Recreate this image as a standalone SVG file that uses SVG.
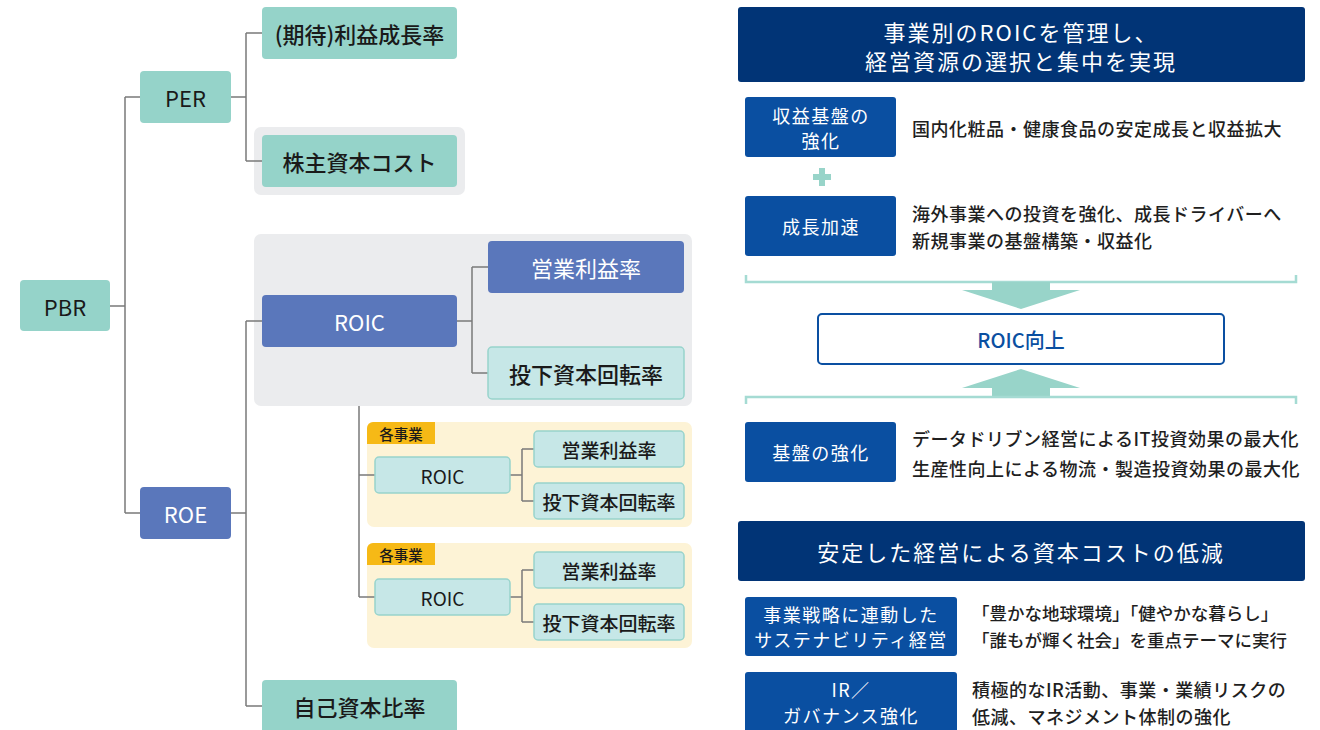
<svg xmlns="http://www.w3.org/2000/svg" width="1320" height="730" viewBox="0 0 1320 730">
<style>
text{font-family:"Noto Sans CJK JP","Noto Sans",sans-serif;}
.teal{fill:#95d3c9;}
.lt{fill:#c6e7e7;stroke:#98d4cc;stroke-width:1.5;}
.blue{fill:#5a77bb;}
.gbg{fill:#ebecee;}
.ybg{fill:#fdf3d6;}
.tag{fill:#f6b916;}
.t21{font-size:22px;fill:#1a1a1a;text-anchor:middle;dominant-baseline:central;font-weight:500;}
.w21{font-size:22px;fill:#ffffff;text-anchor:middle;dominant-baseline:central;}
.t18{font-size:19px;fill:#1a1a1a;text-anchor:middle;dominant-baseline:central;font-weight:500;}
.lat{font-weight:400;}
.tagt{font-size:14.5px;fill:#1a1a1a;text-anchor:middle;dominant-baseline:central;font-weight:500;}
.conn{fill:none;stroke:#7a7a7a;stroke-width:1.5;}
.navy{fill:#013476;}
.bb{fill:#0a4fa1;}
.hd{font-size:22px;fill:#ffffff;text-anchor:middle;dominant-baseline:central;letter-spacing:2px;}
.bt{font-size:18px;fill:#ffffff;text-anchor:middle;dominant-baseline:central;letter-spacing:1.5px;}
.rt{font-size:18px;fill:#1f1f1f;dominant-baseline:central;font-weight:500;letter-spacing:0.5px;}
.rq{font-size:17.5px;fill:#1f1f1f;dominant-baseline:central;font-weight:500;}
.mint{fill:#98d4c9;}
.brk{fill:none;stroke:#a5dbd3;stroke-width:2.5;}
</style>

<g id="bg-cost"><rect class="gbg" x="254" y="127" width="211" height="68" rx="7"/></g>
<g id="bg-roic"><rect class="gbg" x="254" y="234" width="438" height="172" rx="7"/></g>
<g id="bg-biz1"><rect class="ybg" x="367" y="422" width="325" height="105" rx="7"/><path class="tag" d="M367 428 a6 6 0 0 1 6 -6 H435 V444 H367 Z"/><text class="tagt" x="401" y="433">各事業</text></g>
<g id="bg-biz2"><rect class="ybg" x="367" y="543" width="325" height="105" rx="7"/><path class="tag" d="M367 549 a6 6 0 0 1 6 -6 H435 V565 H367 Z"/><text class="tagt" x="401" y="554">各事業</text></g>

<g id="connectors">
<path class="conn" d="M110 306 H125 M125 97 V513 M125 97 H140 M125 513 H140"/>
<path class="conn" d="M231 97 H246 M246 33 V161 M246 33 H262 M246 161 H262"/>
<path class="conn" d="M231 513 H246 M246 321 V706 M246 321 H262 M246 706 H262"/>
<path class="conn" d="M457 321 H472 M472 267 V373 M472 267 H488 M472 373 H488"/>
<path class="conn" d="M359 406 V597 M359 475 H375 M359 597 H375"/>
<path class="conn" d="M510 475 H522 M522 449 V501 M522 449 H534 M522 501 H534"/>
<path class="conn" d="M510 597 H522 M522 570 V622 M522 570 H534 M522 622 H534"/>
</g>

<g id="pbr"><rect class="teal" x="20" y="280" width="90" height="51" rx="4"/><text class="t21 lat" x="65" y="306">PBR</text></g>
<g id="per"><rect class="teal" x="140" y="71" width="91" height="52" rx="4"/><text class="t21 lat" x="185.5" y="97">PER</text></g>
<g id="growth"><rect class="teal" x="262" y="7" width="195" height="52" rx="4"/><text class="t21" x="359.5" y="33">(期待)利益成長率</text></g>
<g id="cost"><rect class="teal" x="262" y="135" width="195" height="52" rx="4"/><text class="t21" x="359.5" y="161">株主資本コスト</text></g>
<g id="roe"><rect class="blue" x="140" y="487" width="91" height="52" rx="4"/><text class="w21" x="185.5" y="513">ROE</text></g>
<g id="roic"><rect class="blue" x="262" y="295" width="195" height="52" rx="4"/><text class="w21" x="359.5" y="321">ROIC</text></g>
<g id="margin"><rect class="blue" x="488" y="241" width="196" height="52" rx="4"/><text class="w21" x="586" y="267">営業利益率</text></g>
<g id="turnover"><rect class="lt" x="488" y="347" width="196" height="52" rx="4"/><text class="t21" x="586" y="373">投下資本回転率</text></g>
<g id="equity"><rect class="teal" x="262" y="680" width="195" height="60" rx="4"/><text class="t21" x="359.5" y="706">自己資本比率</text></g>

<g id="roic1"><rect class="lt" x="375" y="457" width="135" height="36" rx="4"/><text class="t18 lat" x="442.5" y="475">ROIC</text></g>
<g id="margin1"><rect class="lt" x="534" y="431" width="150" height="36" rx="4"/><text class="t18" x="609" y="449">営業利益率</text></g>
<g id="turn1"><rect class="lt" x="534" y="483" width="150" height="36" rx="4"/><text class="t18" x="609" y="501">投下資本回転率</text></g>
<g id="roic2"><rect class="lt" x="375" y="579" width="135" height="36" rx="4"/><text class="t18 lat" x="442.5" y="597">ROIC</text></g>
<g id="margin2"><rect class="lt" x="534" y="552" width="150" height="36" rx="4"/><text class="t18" x="609" y="570">営業利益率</text></g>
<g id="turn2"><rect class="lt" x="534" y="604" width="150" height="36" rx="4"/><text class="t18" x="609" y="622">投下資本回転率</text></g>

<g id="header1"><rect class="navy" x="738" y="7" width="567" height="75" rx="3"/><text class="hd" x="1021" y="31">事業別のROICを管理し、</text><text class="hd" x="1021" y="60">経営資源の選択と集中を実現</text></g>
<g id="base"><rect class="bb" x="745" y="97" width="151" height="60" rx="3"/><text class="bt" x="821" y="115">収益基盤の</text><text class="bt" x="821" y="140">強化</text><text class="rt" x="912" y="128">国内化粧品・健康食品の安定成長と収益拡大</text></g>
<g id="plus"><rect class="mint" x="813" y="174" width="18" height="6"/><rect class="mint" x="819" y="168" width="6" height="18"/></g>
<g id="growth-acc"><rect class="bb" x="745" y="196" width="151" height="60" rx="3"/><text class="bt" x="821" y="226">成長加速</text><text class="rt" x="912" y="213">海外事業への投資を強化、成長ドライバーへ</text><text class="rt" x="912" y="240">新規事業の基盤構築・収益化</text></g>
<g id="arrow-down"><path class="brk" d="M746 275 V282 H1296 V275"/><rect class="mint" x="992" y="282" width="58" height="9"/><polygon class="mint" points="962,290 1080,290 1021,309"/></g>
<g id="roic-up"><rect x="818" y="314" width="406" height="50" rx="4" fill="#ffffff" stroke="#0a4fa1" stroke-width="2"/><text x="1021" y="339" font-size="20" font-weight="500" fill="#0a4fa1" text-anchor="middle" dominant-baseline="central">ROIC向上</text></g>
<g id="arrow-up"><polygon class="mint" points="1021,369 962,388 1080,388"/><rect class="mint" x="992" y="387" width="58" height="10"/><path class="brk" d="M746 404 V397 H1296 V404"/></g>
<g id="foundation"><rect class="bb" x="745" y="422" width="151" height="60" rx="3"/><text class="bt" x="821" y="452">基盤の強化</text><text class="rt" x="912" y="438">データドリブン経営によるIT投資効果の最大化</text><text class="rt" x="912" y="468">生産性向上による物流・製造投資効果の最大化</text></g>
<g id="header2"><rect class="navy" x="738" y="521" width="567" height="60" rx="3"/><text class="hd" x="1021" y="551">安定した経営による資本コストの低減</text></g>
<g id="sustain"><rect class="bb" x="745" y="597" width="212" height="59" rx="3"/><text class="bt" x="851" y="614">事業戦略に連動した</text><text class="bt" x="851" y="639">サステナビリティ経営</text><text class="rq" x="972" y="612">「豊かな地球環境」「健やかな暮らし」</text><text class="rq" x="972" y="639">「誰もが輝く社会」を重点テーマに実行</text></g>
<g id="ir"><rect class="bb" x="745" y="672" width="212" height="66" rx="3"/><text class="bt" x="851" y="689">IR／</text><text class="bt" x="851" y="715">ガバナンス強化</text><text class="rt" x="972" y="689">積極的なIR活動、事業・業績リスクの</text><text class="rt" x="972" y="716">低減、マネジメント体制の強化</text></g>
</svg>
